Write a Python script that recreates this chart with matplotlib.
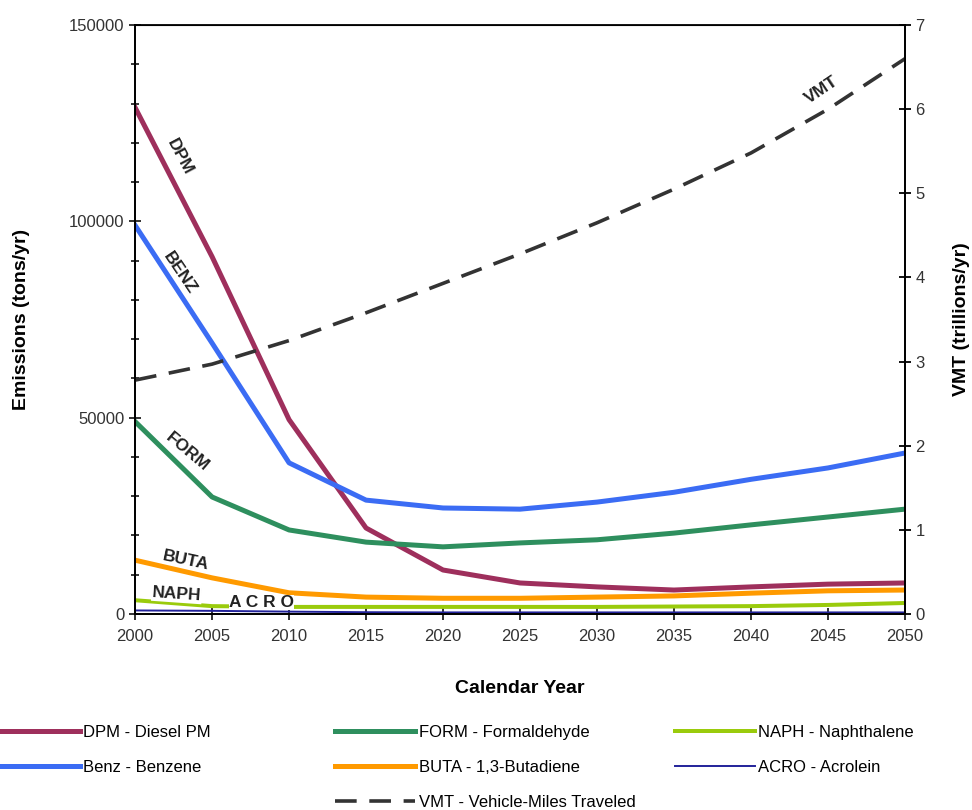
import matplotlib.pyplot as plt
from matplotlib.ticker import MultipleLocator

plt.rcParams['font.family'] = ['Liberation Sans', 'DejaVu Sans']

years = [2000, 2005, 2010, 2015, 2020, 2025, 2030, 2035, 2040, 2045, 2050]

# emissions, tons/yr
dpm = [129000, 91000, 49500, 21900, 11200, 7900, 6900, 6100, 6900, 7600, 7900]
benz = [99000, 69000, 38500, 29000, 27000, 26700, 28500, 31000, 34300, 37200, 41000]
form = [49000, 29800, 21400, 18300, 17100, 18100, 18900, 20600, 22700, 24700, 26700]
buta = [13700, 9200, 5400, 4300, 4000, 4000, 4300, 4600, 5300, 5900, 6100]
naph = [3500, 2000, 1800, 1800, 1800, 1800, 1800, 1900, 2000, 2300, 2800]
acro = [900, 800, 600, 450, 400, 400, 400, 400, 400, 400, 400]

# VMT, trillions/yr
vmt = [2.78, 2.97, 3.25, 3.58, 3.93, 4.28, 4.65, 5.05, 5.48, 6.0, 6.6]

c_dpm = '#9e2f5c'
c_benz = '#3b6cf4'
c_form = '#2e8f5e'
c_buta = '#ff9a00'
c_naph = '#9acb0c'
c_acro = '#22229a'
c_vmt = '#333333'

fig = plt.figure(figsize=(9.72, 8.1), dpi=100)
ax = fig.add_axes([0.139, 0.242, 0.792, 0.727])
ax2 = ax.twinx()

lw = 3.6
l_dpm, = ax.plot(years, dpm, color=c_dpm, lw=lw)
l_benz, = ax.plot(years, benz, color=c_benz, lw=lw)
l_form, = ax.plot(years, form, color=c_form, lw=lw)
l_buta, = ax.plot(years, buta, color=c_buta, lw=lw)
l_naph, = ax.plot(years, naph, color=c_naph, lw=lw * 0.8)
l_acro, = ax.plot(years, acro, color=c_acro, lw=1.4)
l_vmt, = ax2.plot(years, vmt, color=c_vmt, lw=2.6, dashes=(6, 3.5))

ax.set_xlim(2000, 2050)
ax.set_ylim(0, 150000)
ax2.set_ylim(0, 7)
ax.set_xticks(range(2000, 2051, 5))
ax.set_yticks([0, 50000, 100000, 150000])
ax.yaxis.set_minor_locator(MultipleLocator(10000))
ax2.set_yticks(range(0, 8))

for a in (ax, ax2):
    for s in a.spines.values():
        s.set_linewidth(1.3)
ax.spines['top'].set_linewidth(0.8)
ax.tick_params(axis='both', which='major', direction='inout', length=8, width=1.3,
               labelsize=12, colors='#222222', labelcolor='#333333')
ax.tick_params(axis='y', which='minor', direction='inout', length=6, width=1.1)
ax.tick_params(axis='x', pad=7)
ax2.tick_params(axis='y', direction='inout', length=8, width=1.3, labelsize=12,
                labelcolor='#333333')

ax.set_xlabel('Calendar Year', fontsize=14, fontweight='bold', labelpad=26)
ax.set_ylabel('Emissions (tons/yr)', fontsize=14, fontweight='bold', labelpad=28)
ax2.set_ylabel('VMT (trillions/yr)', fontsize=14, fontweight='bold', labelpad=20)

# inline series labels
kw = dict(fontsize=12.5, fontweight='bold', color='#222222', ha='center', va='center')
ax.text(2002.9, 116400, 'DPM', rotation=-62, **kw)
ax.text(2002.9, 86800, 'BENZ', rotation=-56, **kw)
ax.text(2003.4, 41300, 'FORM', rotation=-40, **kw)
ax.text(2003.3, 13500, 'BUTA', rotation=-12, **kw)
ax.text(2002.7, 5000, 'NAPH', rotation=-4, zorder=5,
        bbox=dict(facecolor='white', edgecolor='none', pad=0.5), **kw)
ax.text(2008.2, 2900, 'A C R O', zorder=5,
        bbox=dict(facecolor='white', edgecolor='none', pad=0.3), **kw)
ax.text(2044.6, 133400, 'VMT', rotation=34, **kw)

leg_kw = dict(loc='upper left', frameon=False, fontsize=12, handlelength=4.8,
              handletextpad=0.2, labelspacing=1.2, borderpad=0, borderaxespad=0)
fig.legend([l_dpm, l_benz], ['DPM - Diesel PM', 'Benz - Benzene'],
           bbox_to_anchor=(0.0, 0.105), **leg_kw)
fig.legend([l_form, l_buta, l_vmt],
           ['FORM - Formaldehyde', 'BUTA - 1,3-Butadiene', 'VMT - Vehicle-Miles Traveled'],
           bbox_to_anchor=(0.345, 0.105), **leg_kw)
fig.legend([l_naph, l_acro], ['NAPH - Naphthalene', 'ACRO - Acrolein'],
           bbox_to_anchor=(0.694, 0.105), **leg_kw)

fig.savefig('out.png', dpi=100)
